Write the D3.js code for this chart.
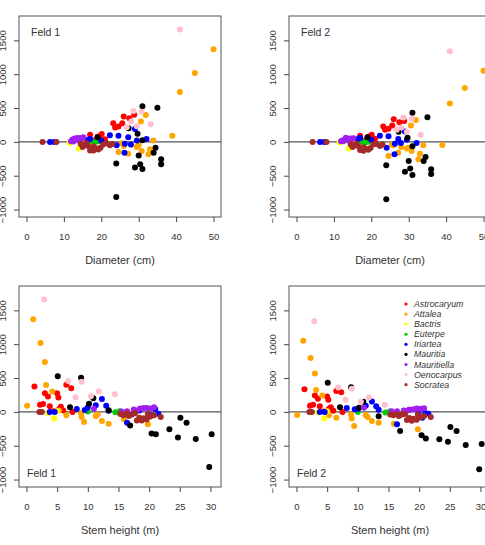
<!DOCTYPE html>
<html>
<head>
<meta charset="utf-8">
<script src="https://cdn.jsdelivr.net/npm/d3@7"></script>
<style>
  body { margin: 0; background: #fff; }
  text { font-family: "Liberation Sans", Arial, sans-serif; fill: #333; }
</style>
</head>
<body>
<div id="chart"></div>
<script>
// DATA - one entry per tree
const speciesNames = ["Astrocaryum", "Attalea", "Bactris", "Euterpe", "Iriartea",
                      "Mauritia", "Mauritiella", "Oenocarpus", "Socratea"];
const speciesColors = ["#ff0000", "#ffa500", "#ffff00", "#00cd00", "#0000ff",
                       "#000000", "#a020f0", "#ffc0cb", "#a52a2a"];

const treeSpecies = [
  0,0,0,0,0,0,0,0,0,0,0,0,0,0,0,
  1,1,1,1,1,1,1,1,1,1,1,1,1,1,1,1,1,
  2,2,2,
  3,3,3,
  4,4,4,4,4,4,4,4,4,4,4,4,4,4,4,
  5,5,5,5,5,5,5,5,5,5,5,5,5,5,5,5,
  6,6,6,6,6,6,6,6,6,6,
  7,7,7,7,7,7,7,
  8,8,8,8,8,8,8,8,8,8,8,8,8,8,8,8,8
];
const diameter = [
  28.8, 27.5, 26.0, 25.6, 24.6, 23.7, 23.2, 20.1, 17.0, 19.6, 21.0, 18.0, 16.0, 15.0, 19.0,
  50, 45, 41, 39, 31.9, 30.6, 33.9, 24.6, 27.2, 30.0, 30.8, 32.6, 29.5, 28.0, 25.5, 33.0, 26.0,
  14.0, 11.5, 16.0,
  18.0, 19.0, 17.5,
  6.3, 7.4, 17.0, 22.3, 24.6, 27.2, 29.0, 26.2, 24.1, 26.3, 27.9, 29.5, 32.1, 16.3, 20.0,
  31.0, 35.0, 24.0, 24.0, 29.0, 30.4, 31.0, 36.0, 36.0, 34.0, 34.5, 30.0, 29.7, 31.0, 19.0, 27.3,
  11.9, 12.3, 12.9, 13.6, 14.3, 14.7, 15.2, 13.2, 12.5, 14.0,
  41.0, 28.6, 30.8, 33.2, 28.0, 26.8, 29.5,
  4.3, 8.0, 14.5, 15.5, 16.5, 17.0, 17.9, 19.2, 19.8, 20.5, 21.4, 22.3, 18.5, 16.0, 23.0, 18.0, 15.0
];
const stemHeight = [
  6.5, 7.3, 1.3, 3.0, 3.5, 5.2, 5.0, 2.7, 2.2, 3.8, 5.3, 6.0, 7.5, 4.5, 5.6,
  1.1, 2.3, 3.0, 0.1, 3.2, 4.2, 5.3, 9.4, 13.4, 6.5, 12.3, 19.8, 9.0, 11.6, 8.9, 15.9, 11.3,
  4.5, 3.5, 5.0,
  14.5, 10.0, 15.2,
  3.8, 4.6, 8.2, 11.3, 13.0, 10.0, 12.3, 16.4, 20.5, 21.5, 19.9, 18.4, 21.0, 9.5, 13.4,
  5.1, 8.9, 29.8, 20.4, 24.7, 21.1, 27.6, 23.3, 30.2, 26.1, 25.1, 16.9, 10.2, 13.4, 7.1, 10.9,
  16.4, 17.5, 18.5, 19.1, 19.6, 20.2, 20.8, 11.0, 15.5, 18.0,
  2.9, 6.8, 9.0, 14.4, 11.8, 8.0, 10.5,
  2.1, 2.5, 15.3, 15.8, 16.7, 18.0, 18.8, 19.6, 18.4, 17.2, 16.3, 20.8, 19.1, 17.7, 19.8, 20.2, 21.9
];
const feld1 = [
  400, 350, 375, 276, 228, 213, 276, 116, 107, 82, 40, 20, 0, 10, 74,
  1368, 1018, 737, 92, 398, 300, 19, -150, -175, -48, -136, -184, -77, -39, -20, -110, -60,
  -97, -15, 10,
  -5, 5, 10,
  0, 0, 44, 97, 92, 68, 189, -160, -48, -29, -39, 19, 44, 29, 15,
  528, 504, -815, -320, -378, -330, -402, -257, -330, -160, -87, -200, 120, 24, 68, 200,
  10, 34, 49, 58, 58, 49, 68, 45, 5, 20,
  1660, 456, 446, 262, 300, 215, 230,
  0, 0, -30, -48, -60, -126, -126, -112, -87, -39, -20, -48, -95, -20, -30, -70, -77
];
const feld2 = [
  310, 291, 335, 243, 194, 179, 228, 107, 92, 82, 48, 15, 0, 5, 68,
  1052, 795, 567, -45, 325, 243, -48, -209, -160, -87, -136, -257, -97, -77, -39, -175, -48,
  -97, -10, 10,
  -10, 0, 5,
  0, 0, 58, 92, 82, 44, 155, -184, -87, -29, -15, 30, -15, 40, 30,
  432, 365, -849, -344, -441, -393, -490, -403, -475, -281, -223, -281, 60, -63, 68, 150,
  10, 20, 30, 40, 50, 45, 55, 60, 10, 15,
  1340, 360, 340, 107, 213, 179, 150,
  0, 0, -40, -50, -60, -120, -130, -115, -90, -40, -30, -60, -100, -30, -40, -80, -77
];

const diameterTicks = [0, 10, 20, 30, 40, 50];
const heightTicks = [0, 5, 10, 15, 20, 25, 30];
const yTicks = [-1000, -500, 0, 500, 1000, 1500];

// build tree rows
const trees = treeSpecies.map((s, i) => ({
  species: s, diameter: diameter[i], height: stemHeight[i], feld1: feld1[i], feld2: feld2[i]
}));

// SVG
const width = 485, height = 545;
const svg = d3.select('#chart').append('svg')
  .attr('width', width)
  .attr('height', height);

const boxW = 202, boxH = 201;
const fontStack = '"Liberation Sans", Arial, sans-serif';

const panels = [
  { left: 19, top: 16, xKey: 'diameter', yKey: 'feld1', xDomain: [-2, 52], ticks: diameterTicks,
    title: 'Diameter (cm)', label: 'Feld 1', labelX: 31, labelY: 36 },
  { left: 289, top: 16, xKey: 'diameter', yKey: 'feld2', xDomain: [-2, 52], ticks: diameterTicks,
    title: 'Diameter (cm)', label: 'Feld 2', labelX: 301, labelY: 36 },
  { left: 19, top: 286, xKey: 'height', yKey: 'feld1', xDomain: [-1.22, 31.72], ticks: heightTicks,
    title: 'Stem height (m)', label: 'Feld 1', labelX: 27, labelY: 477 },
  { left: 289, top: 286, xKey: 'height', yKey: 'feld2', xDomain: [-1.22, 31.72], ticks: heightTicks,
    title: 'Stem height (m)', label: 'Feld 2', labelX: 297, labelY: 477, legend: true }
];

panels.forEach(drawPanel);

function drawPanel(p) {
  const g = svg.append('g').attr('transform', `translate(${p.left},${p.top})`);

  const x = d3.scaleLinear().domain(p.xDomain).range([0, boxW]);
  const y = d3.scaleLinear().domain([-1110, 1860]).range([boxH, 0]);

  // x axis
  const xAxis = g.append('g')
    .attr('transform', `translate(0,${boxH})`)
    .call(d3.axisBottom(x).tickValues(p.ticks).tickSize(5).tickPadding(11.5).tickFormat(d3.format('d')));
  xAxis.select('.domain').remove();
  xAxis.selectAll('line').attr('stroke', '#444');
  xAxis.selectAll('text').attr('fill', '#333')
    .style('font-size', '9.5px')
    .style('font-family', fontStack);

  // y axis, labels turned like R does
  const yAxis = g.append('g')
    .call(d3.axisLeft(y).tickValues(yTicks).tickSize(5).tickFormat(d3.format('d')));
  yAxis.select('.domain').remove();
  yAxis.selectAll('line').attr('stroke', '#444');
  yAxis.selectAll('text')
    .attr('x', null).attr('dy', null)
    .attr('text-anchor', 'middle')
    .attr('transform', 'translate(-13,0) rotate(-90)')
    .attr('fill', '#333')
    .style('font-size', '9.5px')
    .style('font-family', fontStack);

  // zero line
  g.append('line')
    .attr('x1', 0).attr('x2', boxW)
    .attr('y1', y(0)).attr('y2', y(0))
    .attr('stroke', '#555').attr('stroke-width', 1.2);

  // points
  g.selectAll('circle.pt')
    .data(trees)
    .enter()
    .append('circle')
    .attr('class', 'pt')
    .attr('cx', d => x(d[p.xKey]))
    .attr('cy', d => y(d[p.yKey]))
    .attr('r', 3)
    .attr('fill', d => speciesColors[d.species]);

  // box
  g.append('rect')
    .attr('width', boxW).attr('height', boxH)
    .attr('fill', 'none').attr('stroke', '#555').attr('stroke-width', 1);

  // axis title
  svg.append('text')
    .attr('x', p.left + boxW / 2)
    .attr('y', p.top + boxH + 47)
    .attr('text-anchor', 'middle')
    .style('font-size', '11px')
    .text(p.title);

  // field label
  svg.append('text')
    .attr('x', p.labelX)
    .attr('y', p.labelY)
    .style('font-size', '10.5px')
    .text(p.label);

  if (p.legend) addLegend();
}

// LEGEND
function addLegend() {
  const legend = svg.append('g')
    .attr('transform', 'translate(406,304)');

  const row = legend.selectAll('g')
    .data(speciesNames)
    .enter()
    .append('g')
    .attr('transform', (d, i) => `translate(0,${i * 10.08})`);

  row.append('circle')
    .attr('r', 1.6)
    .attr('fill', (d, i) => speciesColors[i]);

  row.append('text')
    .attr('x', 8)
    .attr('dy', '0.35em')
    .style('font-size', '8.8px')
    .style('font-style', 'italic')
    .text(d => d);
}
</script>
</body>
</html>
